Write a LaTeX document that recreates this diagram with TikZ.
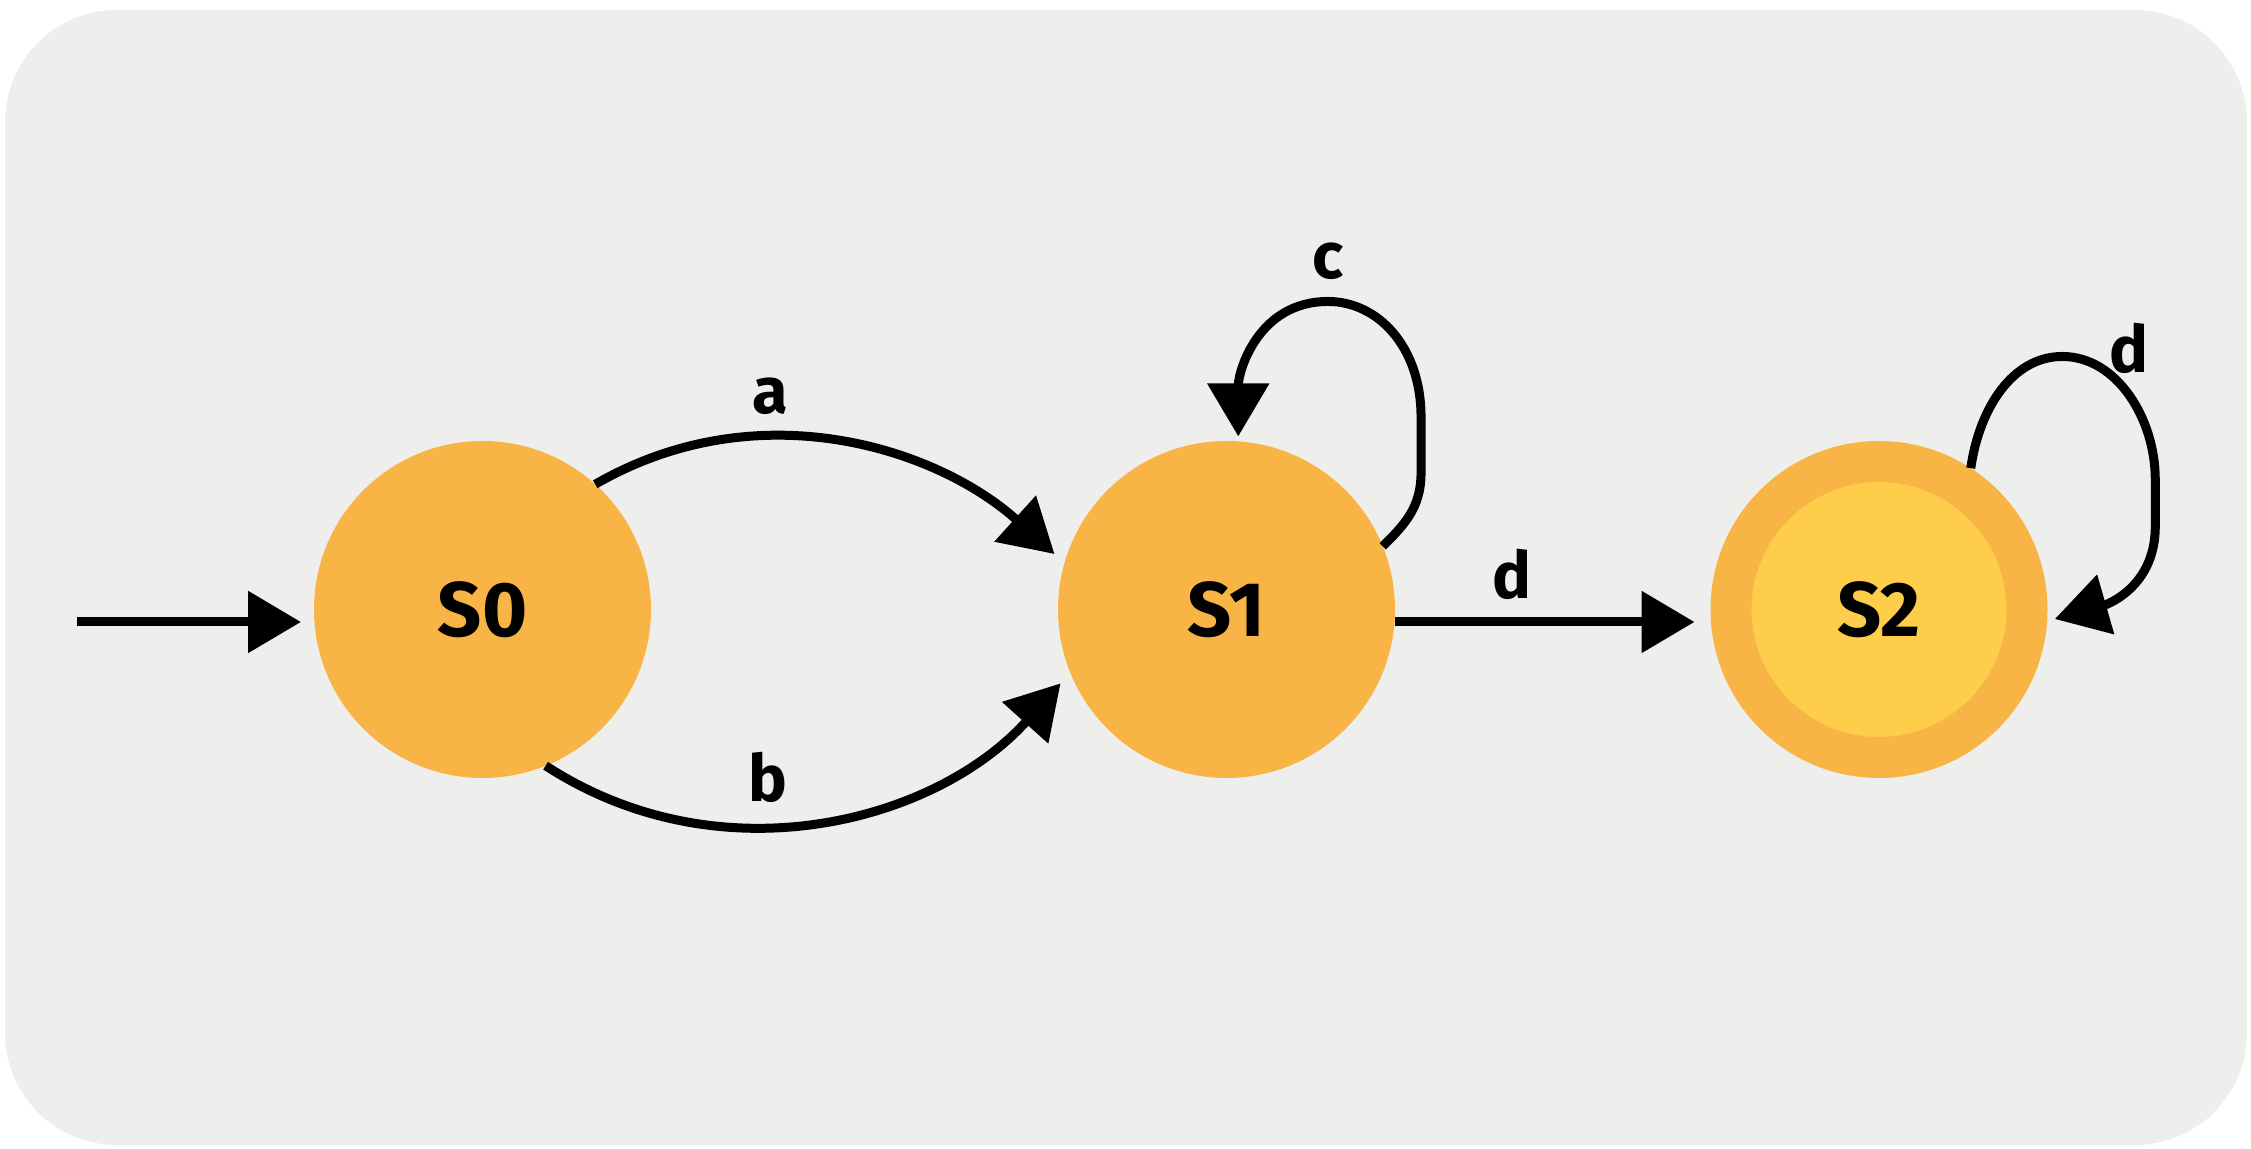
\documentclass[tikz,border=0pt]{standalone}
\usepackage{fontspec}
\setmainfont{Fira Sans}[UprightFont={Fira Sans Regular}, BoldFont={Fira Sans Bold}]
\usepackage{tikz}
\usetikzlibrary{arrows.meta}
\usetikzlibrary{calc}

\definecolor{bgGray}{HTML}{EEEEEC}
\definecolor{stOrange}{HTML}{F9B446}
\definecolor{stYellow}{HTML}{FECE4A}

\begin{document}
\begin{tikzpicture}[
    >={Triangle[length=0.53cm,width=0.6cm]},
    trans/.style={line width=0.09cm, ->},
    state/.style={circle, fill=stOrange, minimum size=3.37cm, inner sep=0pt,
                  outer sep=0pt, font=\fontsize{22}{24}\selectfont\bfseries},
    accept/.style={state, fill=stYellow, draw=stOrange, line width=0.41cm,
                   minimum size=2.96cm, outer sep=0.205cm},
    lbl/.style={font=\fontsize{18.5}{20}\selectfont\bfseries, above=0.06cm}
  ]
  \useasboundingbox (0,0) rectangle (22.51,11.49);
  \fill [bgGray, rounded corners=1.12cm] (0.05,0.04) rectangle (22.47,11.39);

  \node [state]  (s0) at (4.825,5.395) {S0};
  \node [state]  (s1) at (12.265,5.395) {S1};
  \node [accept] (s2) at (18.79,5.395) {S2};

  \coordinate (start) at (0.77,5.27);

  \draw [trans, shorten >=0.13cm] (start) -- (start -| s0.west);

  \draw [trans, shorten >=0.135cm] (s0.48)
    .. controls +(30:1.9) and +(138:1.7) .. (s1.164) node [lbl, pos=0.35] {a};
  \draw [trans, shorten >=0.145cm] (s0.-68)
    .. controls +(-33:2.1) and +(228:2.0) .. (s1.202) node [lbl, pos=0.4] {b};

  \draw [trans, shorten >=0.16cm] ([yshift=-0.125cm]s1.east)
    -- ([yshift=-0.125cm]s2.west) node [lbl, pos=0.37] {d};

  % self loops
  \draw [trans, shorten >=0.05cm] (s1.22)
    .. controls +(45:0.3) and +(-90:0.35) .. ++(0.383,0.734)
    -- ++(0,0.56)
    .. controls +(90:0.7) and +(0:0.5) .. ++(-0.93,1.155) node [lbl] {c}
    .. controls +(180:0.7) and +(90:0.7) .. (s1.86);

  \draw [trans, shorten >=0.08cm] (s2.57)
    .. controls +(82:0.6) and +(180:0.5) .. ++(0.915,1.117)
    .. controls +(0:0.55) and +(90:0.6) .. ++(0.93,-1.23) node [lbl, pos=0.5] {d}
    -- ++(0,-0.47)
    .. controls +(-90:0.75) and +(16:0.35) .. (s2.-4);
\end{tikzpicture}
\end{document}
